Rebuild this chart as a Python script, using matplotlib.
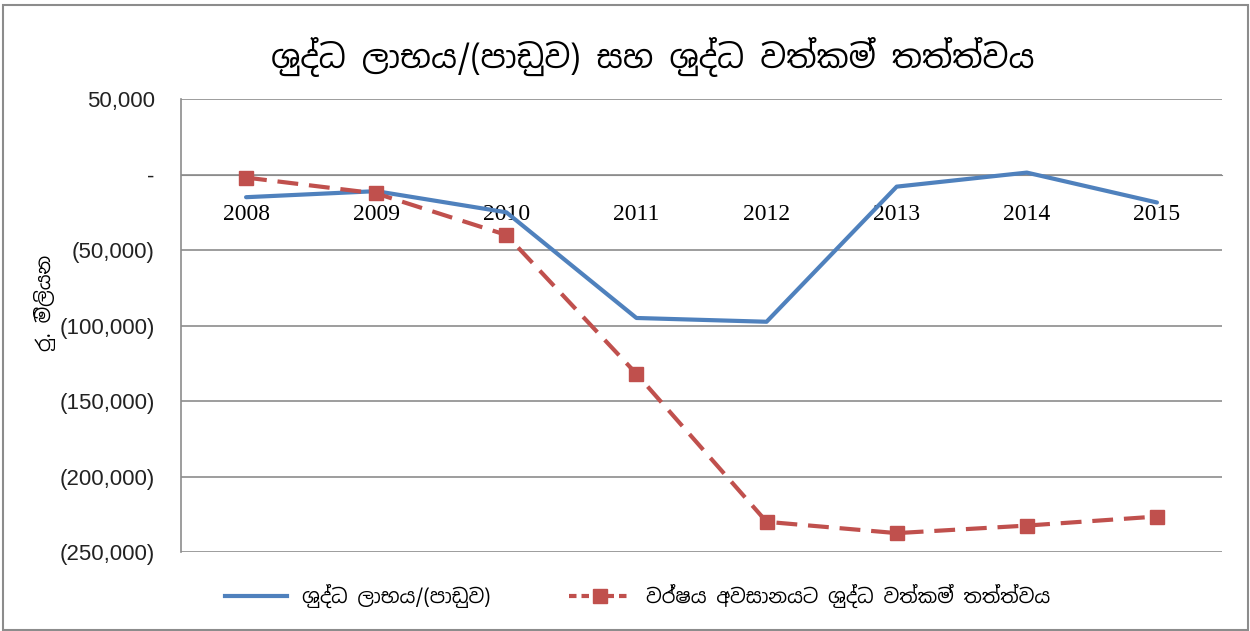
import matplotlib
matplotlib.use("Agg")
import matplotlib.pyplot as plt
from matplotlib import font_manager
from matplotlib.ticker import FuncFormatter
from matplotlib.lines import Line2D
from matplotlib.patches import Rectangle

years = ["2008", "2009", "2010", "2011", "2012", "2013", "2014", "2015"]
net_profit = [-15000, -11000, -25000, -95000, -97500, -8000, 1300, -18500]
net_assets = [-2000, -12500, -40000, -132000, -230000, -237500, -232500, -226500]

title = "ශුද්ධ ලාභය/(පාඩුව) සහ ශුද්ධ වත්කම් තත්ත්වය"
ylabel = "රු. මිලියන"
label_profit = "ශුද්ධ ලාභය/(පාඩුව)"
label_assets = "වර්ෂය අවසානයට ශුද්ධ වත්කම් තත්ත්වය"

# look for any installed font with Sinhala glyphs
sinhala = [f.name for f in font_manager.fontManager.ttflist if "sinhala" in f.name.lower()]
si_family = sinhala[:1] + ["Noto Sans", "DejaVu Sans"]

blue = "#4F81BD"
red = "#C0504D"
grid_c = "#8C8C8C"

fig = plt.figure(figsize=(12.5, 6.31), dpi=100)
fig.patches.append(Rectangle((0.002, 0.002), 0.996, 0.99, transform=fig.transFigure,
                             fill=False, edgecolor="#8C8C8C", lw=1.5))
ax = fig.add_axes([0.1448, 0.1252, 0.8328, 0.7178])

# category axis crosses at zero, as in the original
for s in ["top", "right"]:
    ax.spines[s].set_visible(False)
ax.spines["bottom"].set_position(("data", 0))
ax.spines["bottom"].set_color(grid_c)
ax.spines["left"].set_color(grid_c)
ax.spines["left"].set_linewidth(1.2)

x = list(range(len(years)))
ax.plot(x, net_profit, color=blue, lw=3, solid_capstyle="round", zorder=3)
ax.plot(x, net_assets, color=red, lw=3, linestyle=(0, (5, 2.6)), marker="s",
        markersize=10, markeredgecolor=red, zorder=4)

ax.set_xlim(-0.5, len(years) - 0.5)
ax.set_ylim(-250000, 50000)
ax.set_yticks(range(-250000, 50001, 50000))


def fmt(v, pos):
    if v == 0:
        return "-"
    if v < 0:
        return "({:,.0f})".format(-v)
    return "{:,.0f}".format(v)


ax.yaxis.set_major_formatter(FuncFormatter(fmt))
ax.set_xticks(x)
ax.set_xticklabels(years)
for lab in ax.get_xticklabels():
    lab.set_family("Liberation Serif")
    lab.set_fontsize(17)
ax.tick_params(axis="x", length=0, pad=21)
ax.tick_params(axis="y", length=0, pad=19, labelsize=16, colors="#222222")
for lab in ax.get_yticklabels():
    lab.set_family(["Liberation Sans", "DejaVu Sans"])

ax.grid(axis="y", color=grid_c, lw=1.2)
ax.set_axisbelow(True)

ax.set_ylabel(ylabel, family=si_family, fontsize=14)
ax.yaxis.set_label_coords(-0.12, 0.55)

fig.text(0.522, 0.91, title, family=si_family, fontsize=23, ha="center", va="center")

handles = [Line2D([], [], color=blue, lw=3),
           Line2D([], [], color=red, lw=3, linestyle=(0, (1.8, 1.2)), marker="s", markersize=10)]
fig.legend(handles, [label_profit, label_assets], loc="center", bbox_to_anchor=(0.51, 0.055),
           ncol=2, frameon=False, prop={"family": si_family, "size": 14},
           handlelength=3.2, columnspacing=4.0)

fig.savefig("out.png", dpi=100)
